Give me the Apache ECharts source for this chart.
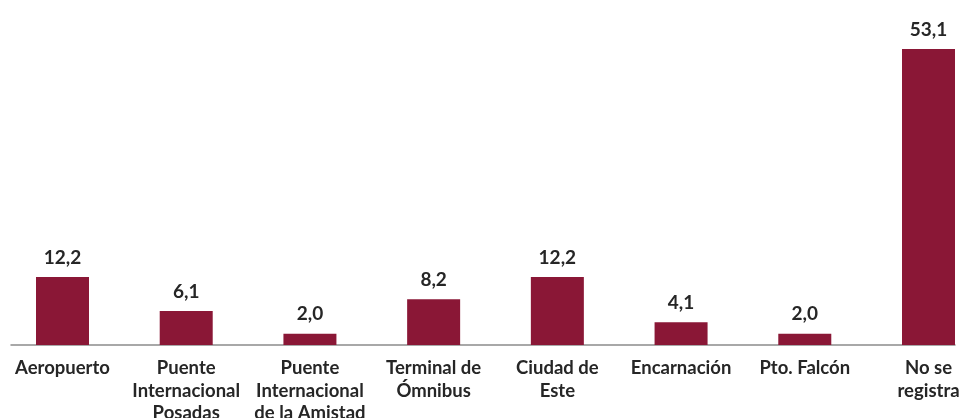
<!DOCTYPE html>
<html><head><meta charset="utf-8">
<script src="https://cdn.jsdelivr.net/npm/echarts@6/dist/echarts.min.js"></script>
<style>html,body{margin:0;padding:0;background:#fff}#c{width:967px;height:418px}</style>
</head><body><div id="c"></div>
<script>
const categories = ["Aeropuerto","Puente\nInternacional\nPosadas","Puente\nInternacional\nde la Amistad","Terminal de\nÓmnibus","Ciudad de\nEste","Encarnación","Pto. Falcón","No se\nregistra"];
const values = [12.2, 6.1, 2.0, 8.2, 12.2, 4.1, 2.0, 53.1];

const chart = echarts.init(document.getElementById('c'));
chart.setOption({
  animation: false,
  grid: [
    {left: 62.5, right: 38.5, top: 10.5, bottom: 73, containLabel: false, outerBoundsMode: 'none'},
    {left: 11, right: 12, top: 10.5, bottom: 73, containLabel: false, outerBoundsMode: 'none'}
  ],
  xAxis: [
    {type: 'category', data: categories, gridIndex: 0, boundaryGap: false,
     axisLine: {show: false}, axisTick: {show: false},
     axisLabel: {interval: 0, margin: 12, fontFamily: 'Lato', fontWeight: 'bold', fontSize: 18.5, color: '#262626', lineHeight: 22.5}},
    {type: 'value', gridIndex: 1, min: 0, max: 1, show: true,
     axisLine: {show: true, lineStyle: {color: '#8c8c8c', width: 1.5}},
     axisTick: {show: false}, axisLabel: {show: false}, splitLine: {show: false}}
  ],
  yAxis: [
    {type: 'value', gridIndex: 0, min: 0, max: 60, show: false, splitLine: {show: false}},
    {type: 'value', gridIndex: 1, min: 0, max: 1, show: false, splitLine: {show: false}}
  ],
  series: [{
    type: 'bar', data: values, xAxisIndex: 0, yAxisIndex: 0,
    barWidth: 53,
    itemStyle: {color: '#8a1736'},
    label: {show: true, position: 'top', distance: 10,
      fontFamily: 'Lato', fontWeight: 'bold', fontSize: 19, color: '#262626',
      formatter: p => p.value.toFixed(1).replace('.', ',')}
  }]
});
</script></body></html>
